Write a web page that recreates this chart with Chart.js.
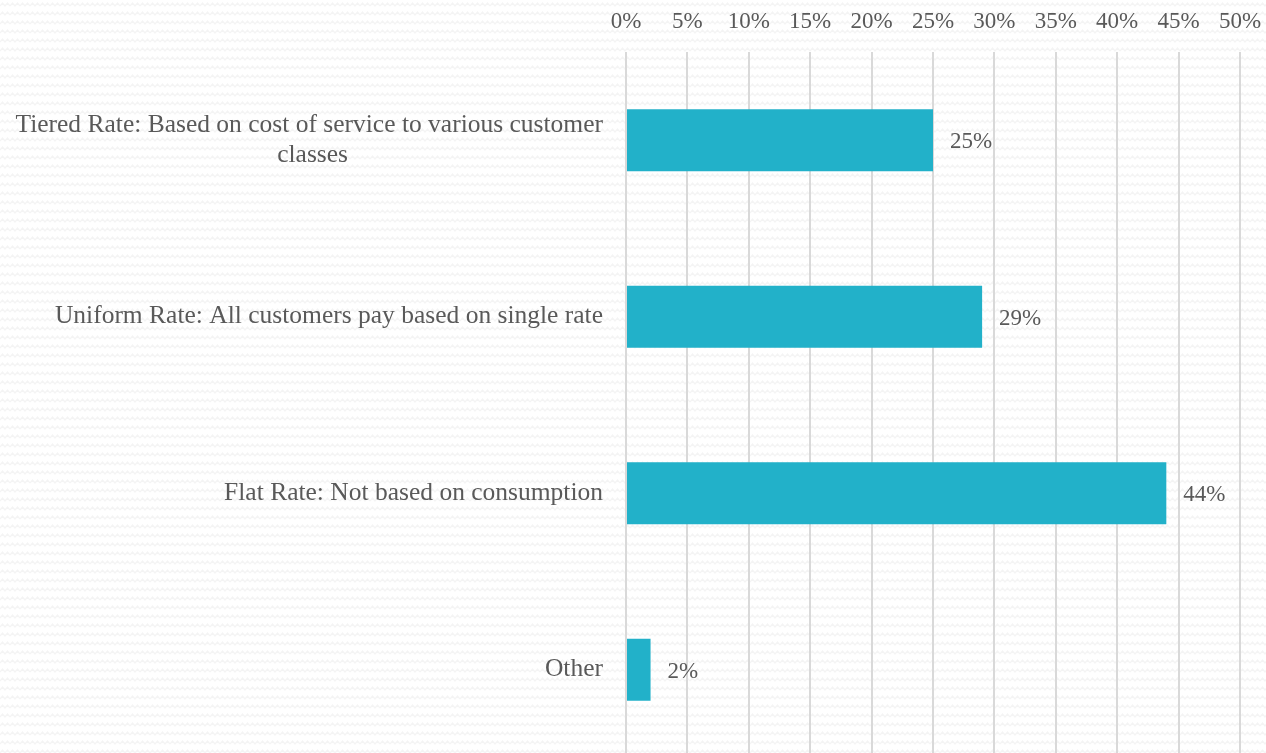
<!DOCTYPE html>
<html>
<head>
<meta charset="utf-8">
<script src="https://cdn.jsdelivr.net/npm/chart.js@4.4.1/dist/chart.umd.min.js"></script>
<style>
  html, body { margin: 0; padding: 0; }
  body {
    width: 1266px; height: 753px; overflow: hidden;
    background-color: #ffffff;
    background-image: url("data:image/svg+xml,%3Csvg xmlns='http://www.w3.org/2000/svg' width='10' height='9'%3E%3Cpath d='M0 6 L2.5 3 L5 6 L7.5 3 L10 6' fill='none' stroke='%23f4f4f4' stroke-width='1.2'/%3E%3C/svg%3E");
  }
</style>
</head>
<body>
<!-- canvas runs a few px past the window bottom, like the original plot -->
<canvas id="myChart" width="1266" height="758" style="display:block;width:1266px;height:758px"></canvas>
<script>
(() => {
    'use strict'

    // chart data
    const categories = [
        ['Tiered Rate: Based on cost of service to various customer', 'classes'],
        'Uniform Rate: All customers pay based on single rate',
        'Flat Rate: Not based on consumption',
        'Other'
    ];
    const shares = [25, 29, 44, 2];
    const tickValues = [0, 5, 10, 15, 20, 25, 30, 35, 40, 45, 50];

    const textColor = '#595959';
    const fontFamily = "'Liberation Serif', 'DejaVu Serif', serif";

    // labels are right aligned, so pad the wrapped second line to sit centred
    const nbsp = '\u00a0';
    const axisLabels = categories.map(l => Array.isArray(l)
        ? [l[0], l[1] + nbsp.repeat(40)]
        : l);

    // draws the value at the end of every bar
    const valueLabels = {
        id: 'valueLabels',
        afterDatasetsDraw(chart) {
            const c = chart.ctx;
            const meta = chart.getDatasetMeta(0);
            c.save();
            c.fillStyle = textColor;
            c.font = '23px ' + fontFamily;
            c.textAlign = 'left';
            c.textBaseline = 'middle';
            meta.data.forEach((bar, i) => {
                c.fillText(shares[i] + '%', bar.x + 17, bar.y + 2);
            });
            c.restore();
        }
    };

    const ctx = document.getElementById('myChart');

    new Chart(ctx, {
        type: 'bar',
        data: {
            labels: axisLabels,
            datasets: [{
                data: shares,
                backgroundColor: '#22b1c9',
                borderWidth: 0,
                categoryPercentage: 1,
                barPercentage: 0.35
            }]
        },
        options: {
            indexAxis: 'y',
            responsive: false,
            animation: false,
            layout: { padding: { top: 0, right: 26, bottom: 0, left: 0 } },
            plugins: {
                legend: { display: false },
                tooltip: { enabled: false }
            },
            scales: {
                x: {
                    position: 'top',
                    min: 0,
                    max: 50,
                    afterBuildTicks(scale) {
                        scale.ticks = tickValues.map(v => ({ value: v }));
                    },
                    afterFit(scale) {
                        scale.height = 52;
                        scale.paddingLeft = 0;
                        scale.paddingRight = 0;
                    },
                    border: { display: false },
                    grid: { color: '#d9d9d9', lineWidth: 2, drawTicks: false },
                    ticks: {
                        color: textColor,
                        padding: 16,
                        font: { family: fontFamily, size: 23 },
                        callback: v => v + '%'
                    }
                },
                y: {
                    afterFit(scale) {
                        scale.width = 626;
                        scale.paddingTop = 0;
                        scale.paddingBottom = 0;
                    },
                    border: { display: false },
                    grid: { display: false },
                    ticks: {
                        color: textColor,
                        padding: 15,
                        font: { family: fontFamily, size: 25.5 }
                    }
                }
            }
        },
        plugins: [valueLabels]
    });
})()
</script>
</body>
</html>
